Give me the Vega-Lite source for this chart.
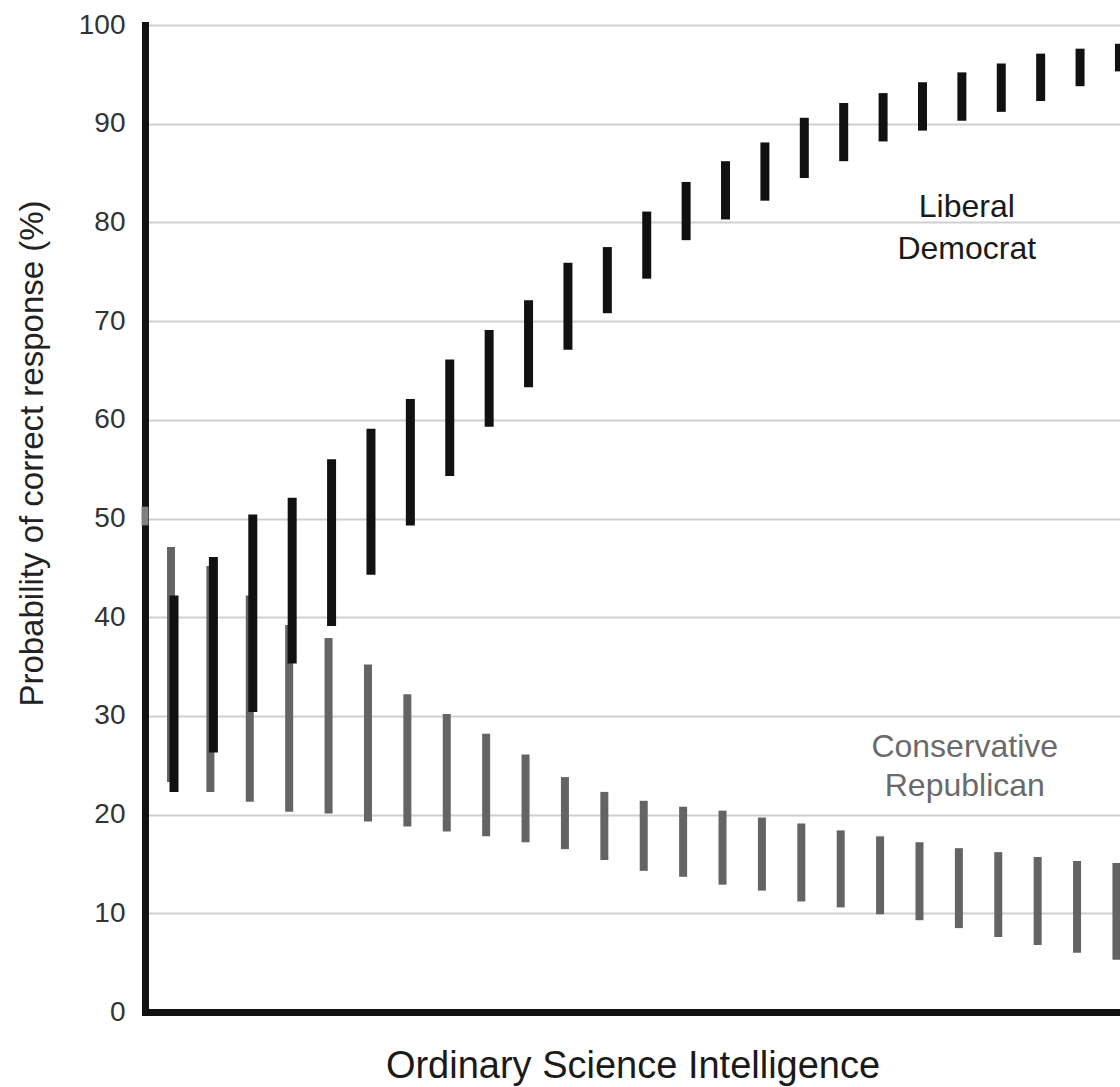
{
  "$schema": "https://vega.github.io/schema/vega-lite/v6.json",
  "width": 975,
  "height": 987,
  "autosize": "none",
  "padding": {"left": 145, "top": 25, "right": 0, "bottom": 75},
  "background": "white",
  "config": {"view": {"stroke": null}, "font": "Liberation Sans"},
  "datasets": {
    "bars": [
      {"group": "Conservative Republican", "x": 1, "lo": 23.3, "hi": 47.1},
      {"group": "Conservative Republican", "x": 2, "lo": 22.3, "hi": 45.2},
      {"group": "Conservative Republican", "x": 3, "lo": 21.3, "hi": 42.2},
      {"group": "Conservative Republican", "x": 4, "lo": 20.3, "hi": 39.2},
      {"group": "Conservative Republican", "x": 5, "lo": 20.1, "hi": 37.9},
      {"group": "Conservative Republican", "x": 6, "lo": 19.3, "hi": 35.2},
      {"group": "Conservative Republican", "x": 7, "lo": 18.8, "hi": 32.2},
      {"group": "Conservative Republican", "x": 8, "lo": 18.3, "hi": 30.2},
      {"group": "Conservative Republican", "x": 9, "lo": 17.8, "hi": 28.2},
      {"group": "Conservative Republican", "x": 10, "lo": 17.2, "hi": 26.1},
      {"group": "Conservative Republican", "x": 11, "lo": 16.5, "hi": 23.8},
      {"group": "Conservative Republican", "x": 12, "lo": 15.4, "hi": 22.3},
      {"group": "Conservative Republican", "x": 13, "lo": 14.3, "hi": 21.4},
      {"group": "Conservative Republican", "x": 14, "lo": 13.7, "hi": 20.8},
      {"group": "Conservative Republican", "x": 15, "lo": 12.9, "hi": 20.4},
      {"group": "Conservative Republican", "x": 16, "lo": 12.3, "hi": 19.7},
      {"group": "Conservative Republican", "x": 17, "lo": 11.2, "hi": 19.1},
      {"group": "Conservative Republican", "x": 18, "lo": 10.6, "hi": 18.4},
      {"group": "Conservative Republican", "x": 19, "lo": 9.9, "hi": 17.8},
      {"group": "Conservative Republican", "x": 20, "lo": 9.3, "hi": 17.2},
      {"group": "Conservative Republican", "x": 21, "lo": 8.5, "hi": 16.6},
      {"group": "Conservative Republican", "x": 22, "lo": 7.6, "hi": 16.2},
      {"group": "Conservative Republican", "x": 23, "lo": 6.8, "hi": 15.7},
      {"group": "Conservative Republican", "x": 24, "lo": 6.0, "hi": 15.3},
      {"group": "Conservative Republican", "x": 25, "lo": 5.3, "hi": 15.1},
      {"group": "Liberal Democrat", "x": 1, "lo": 22.3, "hi": 42.2},
      {"group": "Liberal Democrat", "x": 2, "lo": 26.3, "hi": 46.1},
      {"group": "Liberal Democrat", "x": 3, "lo": 30.4, "hi": 50.4},
      {"group": "Liberal Democrat", "x": 4, "lo": 35.3, "hi": 52.1},
      {"group": "Liberal Democrat", "x": 5, "lo": 39.1, "hi": 56.0},
      {"group": "Liberal Democrat", "x": 6, "lo": 44.3, "hi": 59.1},
      {"group": "Liberal Democrat", "x": 7, "lo": 49.3, "hi": 62.1},
      {"group": "Liberal Democrat", "x": 8, "lo": 54.3, "hi": 66.1},
      {"group": "Liberal Democrat", "x": 9, "lo": 59.3, "hi": 69.1},
      {"group": "Liberal Democrat", "x": 10, "lo": 63.3, "hi": 72.1},
      {"group": "Liberal Democrat", "x": 11, "lo": 67.1, "hi": 75.9},
      {"group": "Liberal Democrat", "x": 12, "lo": 70.8, "hi": 77.5},
      {"group": "Liberal Democrat", "x": 13, "lo": 74.3, "hi": 81.1},
      {"group": "Liberal Democrat", "x": 14, "lo": 78.2, "hi": 84.1},
      {"group": "Liberal Democrat", "x": 15, "lo": 80.3, "hi": 86.2},
      {"group": "Liberal Democrat", "x": 16, "lo": 82.2, "hi": 88.1},
      {"group": "Liberal Democrat", "x": 17, "lo": 84.5, "hi": 90.6},
      {"group": "Liberal Democrat", "x": 18, "lo": 86.2, "hi": 92.1},
      {"group": "Liberal Democrat", "x": 19, "lo": 88.2, "hi": 93.1},
      {"group": "Liberal Democrat", "x": 20, "lo": 89.3, "hi": 94.2},
      {"group": "Liberal Democrat", "x": 21, "lo": 90.3, "hi": 95.2},
      {"group": "Liberal Democrat", "x": 22, "lo": 91.2, "hi": 96.1},
      {"group": "Liberal Democrat", "x": 23, "lo": 92.3, "hi": 97.1},
      {"group": "Liberal Democrat", "x": 24, "lo": 93.8, "hi": 97.6},
      {"group": "Liberal Democrat", "x": 25, "lo": 95.3, "hi": 98.1},
      {"group": "chance", "x": 0.34, "lo": 49.3, "hi": 51.2}
    ],
    "labels": [
      {"group": "Liberal Democrat", "label": "Liberal", "x": 21.2, "lo": 80.58},
      {"group": "Liberal Democrat", "label": "Democrat", "x": 21.2, "lo": 76.29},
      {"group": "Conservative Republican", "label": "Conservative", "x": 21.15, "lo": 25.8},
      {"group": "Conservative Republican", "label": "Republican", "x": 21.15, "lo": 21.88}
    ]
  },
  "encoding": {
    "x": {
      "field": "x",
      "type": "quantitative",
      "scale": {"domain": [0.34, 25.09], "nice": false, "zero": false},
      "axis": {
        "title": "Ordinary Science Intelligence",
        "labels": false,
        "ticks": false,
        "tickSize": 0,
        "grid": false,
        "domainColor": "#111111",
        "domainWidth": 7,
        "domainCap": "square",
        "titleFontSize": 38,
        "titleFontWeight": "normal",
        "titleColor": "#1a1a1a",
        "titleBaseline": "alphabetic",
        "titleY": 65
      }
    },
    "y": {
      "field": "lo",
      "type": "quantitative",
      "scale": {"domain": [0, 100], "nice": false},
      "axis": {
        "title": "Probability of correct response (%)",
        "values": [0, 10, 20, 30, 40, 50, 60, 70, 80, 90, 100],
        "grid": true,
        "gridColor": "#cfcfcf",
        "gridWidth": 2,
        "ticks": false,
        "tickSize": 0,
        "labelPadding": 20,
        "labelFontSize": 28,
        "labelColor": "#333333",
        "labelBaseline": "middle",
        "domainColor": "#111111",
        "domainWidth": 7,
        "domainCap": "square",
        "titleFontSize": 33,
        "titleFontWeight": "normal",
        "titleColor": "#222222",
        "titleBaseline": "alphabetic",
        "titleAngle": 270,
        "titleX": -103,
        "titleY": 428
      }
    }
  },
  "layer": [
    {
      "data": {"name": "bars"},
      "transform": [{"filter": "datum.group === 'Conservative Republican'"}],
      "mark": {"type": "rule", "strokeWidth": 8, "color": "#646464"},
      "encoding": {"y2": {"field": "hi"}}
    },
    {
      "data": {"name": "bars"},
      "transform": [{"filter": "datum.group === 'Liberal Democrat'"}],
      "mark": {"type": "rule", "strokeWidth": 9, "color": "#111111", "xOffset": 3},
      "encoding": {"y2": {"field": "hi"}}
    },
    {
      "data": {"name": "bars"},
      "transform": [{"filter": "datum.group === 'chance'"}],
      "mark": {"type": "rule", "strokeWidth": 7, "color": "#808080"},
      "encoding": {"y2": {"field": "hi"}}
    },
    {
      "data": {"name": "labels"},
      "mark": {"type": "text", "fontSize": 32, "align": "center", "baseline": "alphabetic", "font": "Liberation Sans"},
      "encoding": {
        "text": {"field": "label"},
        "color": {
          "field": "group",
          "type": "nominal",
          "scale": {"domain": ["Liberal Democrat", "Conservative Republican"], "range": ["#1a1a1a", "#6a6a6a"]},
          "legend": null
        }
      }
    }
  ]
}
